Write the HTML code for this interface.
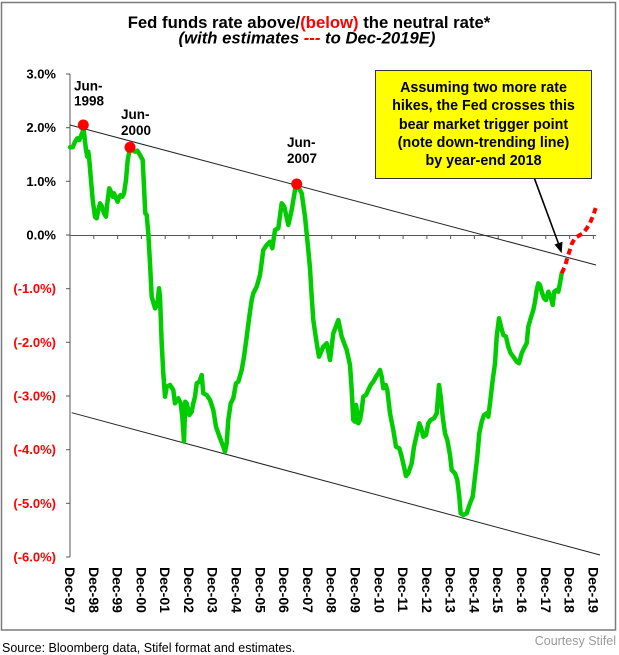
<!DOCTYPE html>
<html>
<head>
<meta charset="utf-8">
<style>
  html,body{margin:0;padding:0;background:#fff;}
  body{width:619px;height:655px;overflow:hidden;position:relative;font-family:"Liberation Sans",Arial,sans-serif;}
  svg{position:absolute;left:0;top:0;}
  .box{position:absolute;left:375px;top:70px;width:215px;height:99px;background:#ffff00;border:1.5px solid #333;
       font-weight:bold;font-size:14.3px;line-height:18.3px;text-align:center;color:#000;padding-top:8px;box-sizing:content-box;}
</style>
</head>
<body>
<svg width="619" height="655" viewBox="0 0 619 655" xmlns="http://www.w3.org/2000/svg" font-family="Liberation Sans, Arial, sans-serif">
  <!-- outer frame -->
  <rect x="1.5" y="2.5" width="614" height="627.5" fill="#fff" stroke="#7a7a7a" stroke-width="1.5"/>

  <!-- title -->
  <text x="309" y="28" text-anchor="middle" font-size="16.7" font-weight="bold" fill="#000">Fed funds rate above/<tspan fill="#ff0000">(below)</tspan> the neutral rate*</text>
  <text x="307" y="43.5" text-anchor="middle" font-size="16.7" font-weight="bold" font-style="italic" fill="#000">(with estimates <tspan fill="#ff0000">---</tspan> to Dec-2019E)</text>

  <!-- y axis -->
  <line x1="70" y1="74" x2="70" y2="557" stroke="#555" stroke-width="1"/>
  <g stroke="#555" stroke-width="1">
    <line x1="66" y1="74" x2="70" y2="74"/>
    <line x1="66" y1="127.7" x2="70" y2="127.7"/>
    <line x1="66" y1="181.3" x2="70" y2="181.3"/>
    <line x1="66" y1="235" x2="70" y2="235"/>
    <line x1="66" y1="288.7" x2="70" y2="288.7"/>
    <line x1="66" y1="342.3" x2="70" y2="342.3"/>
    <line x1="66" y1="396" x2="70" y2="396"/>
    <line x1="66" y1="449.7" x2="70" y2="449.7"/>
    <line x1="66" y1="503.3" x2="70" y2="503.3"/>
    <line x1="66" y1="557" x2="70" y2="557"/>
  </g>
  <g font-size="13" font-weight="bold" text-anchor="end" dominant-baseline="central">
    <text x="56" y="74" fill="#000">3.0%</text>
    <text x="56" y="127.7" fill="#000">2.0%</text>
    <text x="56" y="181.3" fill="#000">1.0%</text>
    <text x="56" y="235" fill="#000">0.0%</text>
    <text x="56" y="288.7" fill="#ff0000">(-1.0%)</text>
    <text x="56" y="342.3" fill="#ff0000">(-2.0%)</text>
    <text x="56" y="396" fill="#ff0000">(-3.0%)</text>
    <text x="56" y="449.7" fill="#ff0000">(-4.0%)</text>
    <text x="56" y="503.3" fill="#ff0000">(-5.0%)</text>
    <text x="56" y="557" fill="#ff0000">(-6.0%)</text>
  </g>

  <!-- x axis (zero line) -->
  <line x1="70" y1="235.5" x2="596" y2="235.5" stroke="#555" stroke-width="1"/>
  <g stroke="#555" stroke-width="1">
    <line x1="93.8" y1="235.5" x2="93.8" y2="239"/>
    <line x1="117.6" y1="235.5" x2="117.6" y2="239"/>
    <line x1="141.4" y1="235.5" x2="141.4" y2="239"/>
    <line x1="165.2" y1="235.5" x2="165.2" y2="239"/>
    <line x1="189" y1="235.5" x2="189" y2="239"/>
    <line x1="212.7" y1="235.5" x2="212.7" y2="239"/>
    <line x1="236.5" y1="235.5" x2="236.5" y2="239"/>
    <line x1="260.3" y1="235.5" x2="260.3" y2="239"/>
    <line x1="284.1" y1="235.5" x2="284.1" y2="239"/>
    <line x1="307.9" y1="235.5" x2="307.9" y2="239"/>
    <line x1="331.7" y1="235.5" x2="331.7" y2="239"/>
    <line x1="355.5" y1="235.5" x2="355.5" y2="239"/>
    <line x1="379.3" y1="235.5" x2="379.3" y2="239"/>
    <line x1="403.1" y1="235.5" x2="403.1" y2="239"/>
    <line x1="426.9" y1="235.5" x2="426.9" y2="239"/>
    <line x1="450.6" y1="235.5" x2="450.6" y2="239"/>
    <line x1="474.4" y1="235.5" x2="474.4" y2="239"/>
    <line x1="498.2" y1="235.5" x2="498.2" y2="239"/>
    <line x1="522" y1="235.5" x2="522" y2="239"/>
    <line x1="545.8" y1="235.5" x2="545.8" y2="239"/>
    <line x1="569.6" y1="235.5" x2="569.6" y2="239"/>
    <line x1="593.4" y1="235.5" x2="593.4" y2="239"/>
  </g>

  <!-- x labels -->
  <g font-size="14" font-weight="bold" fill="#000" dominant-baseline="central">
    <text transform="translate(70,567) rotate(90)">Dec-97</text>
    <text transform="translate(93.8,567) rotate(90)">Dec-98</text>
    <text transform="translate(117.6,567) rotate(90)">Dec-99</text>
    <text transform="translate(141.4,567) rotate(90)">Dec-00</text>
    <text transform="translate(165.2,567) rotate(90)">Dec-01</text>
    <text transform="translate(189,567) rotate(90)">Dec-02</text>
    <text transform="translate(212.7,567) rotate(90)">Dec-03</text>
    <text transform="translate(236.5,567) rotate(90)">Dec-04</text>
    <text transform="translate(260.3,567) rotate(90)">Dec-05</text>
    <text transform="translate(284.1,567) rotate(90)">Dec-06</text>
    <text transform="translate(307.9,567) rotate(90)">Dec-07</text>
    <text transform="translate(331.7,567) rotate(90)">Dec-08</text>
    <text transform="translate(355.5,567) rotate(90)">Dec-09</text>
    <text transform="translate(379.3,567) rotate(90)">Dec-10</text>
    <text transform="translate(403.1,567) rotate(90)">Dec-11</text>
    <text transform="translate(426.9,567) rotate(90)">Dec-12</text>
    <text transform="translate(450.6,567) rotate(90)">Dec-13</text>
    <text transform="translate(474.4,567) rotate(90)">Dec-14</text>
    <text transform="translate(498.2,567) rotate(90)">Dec-15</text>
    <text transform="translate(522,567) rotate(90)">Dec-16</text>
    <text transform="translate(545.8,567) rotate(90)">Dec-17</text>
    <text transform="translate(569.6,567) rotate(90)">Dec-18</text>
    <text transform="translate(593.4,567) rotate(90)">Dec-19</text>
  </g>

  <!-- trend lines -->
  <line x1="70" y1="125" x2="596" y2="265" stroke="#222" stroke-width="1"/>
  <line x1="71.7" y1="412.7" x2="600" y2="555" stroke="#222" stroke-width="1"/>

  <!-- green series -->
  <polyline fill="none" stroke="#00cc00" stroke-width="4.5" stroke-linejoin="round" stroke-linecap="round" points="
70,147.3 72.7,147.3 75,141.7 77.3,138.3 79.3,140 81,136 82.7,131.7 83.3,126 86,150 87.3,156.7 88.3,151.7 89.3,160 90.7,176.7 92.7,200 95,216.7 96.7,218.3 98.3,210 100,203.3 102,206.7 104,213.3 106,216.7 107.3,203.3 109.3,188.3 111,191.7 112.7,196.7 114,193.3 116,198.3 117.7,201.7 119.3,196.7 120.7,195 122.3,196.7 124,193.3 126,180 127.7,160 130,148 132.7,150 135,151.7 137.3,150.7 140,155 142.7,160 144,186.7 145.3,213.3 146.7,215 148.3,233.3
150,263.3 151.7,296.7 155,308.3 157.3,305 159,288.3 160,296.7 161.7,343.3 163.3,373.3 165,396.7 166.7,386.7 170,385 173.3,390 175,403.3 178.3,398.3 180.7,403.3 182.3,416.7 184,441.7 185.3,401.7 186.7,403.3 189.3,415 191.7,411.7 193.3,403.3 195,396.7 196.7,383.3 199.3,381.7 201.7,375 203.3,393.3 206.7,395 210,400 213.3,410 216,426.7 218.3,433.3 220.7,440 223.3,446.7 225,451.7 226.7,443.3 228.3,420 230.7,403.3 233.3,398.3 236,383.3 238.3,381.7 241.7,370 244,356.7 246.7,336.7 249.3,316.7 251.7,300 253.3,293.3 256.7,286.7 260,275
263.3,250 266.7,245 270,241.7 272.3,248.3 275,230 278.3,228.3 281.7,203.3 284.3,206.7 288.3,225 291.7,210 295,190 296.7,184 301.7,193.3 305,216.7 308.3,250 310,268.3 311.7,296.7 313.3,320 316.7,343.3 319,356.7 323.3,346.7 326.7,343.3 330,360 333.3,333.3 338.3,320 341.7,336.7 346.7,350 350,365
351.7,390 353.3,420 355,421.7 356,405 357.3,413.3 358.3,423.3 360,420 361.7,410 363.3,396.7 366,395 368.3,390 370.7,385 373.3,381.7 376,376.7 378.3,373.3 380,370 381.7,376.7 383.3,388.3 385.7,385 387.3,390 390,413.3 393.3,430 396,446.7 399.3,448.3 401.7,456.7 404,466.7 406,476 408.3,473.3 411.7,463.3 414,446.7 416.7,435 419.3,423.3 421.7,430 423.3,436.7 426,435 428.3,423.3 430.7,420 434,418.3 436.7,413.3 439,385 440.7,396.7 442.7,416.7 445,433.3 447.3,440
450,455 451.7,470 455,473.3 457.3,480 459.3,496.7 460.7,513.3 463.3,515 466.7,513.3 470,503.3 472.7,496.7 475,476.7 477.3,456.7 479.3,433.3 481.7,421.7 484,415 486.7,413.3 488.3,416.7 490,403.3 492.7,380 495,363.3 496.7,336.7 499,318.3 501,326.7 503.3,335 506,336.7 508.3,346.7 510.7,353.3 513.3,356.7 516.7,361.7 519,363.3 521.7,353.3 524,348.3 526.7,343.3 528.3,326.7 530.7,318.3 533.3,310 535,301.7 536.7,290 538.3,283.3 540,285 541.7,291.7 544,298.3 546,300 548.3,291.7 550.7,296.7 552.7,305 554.3,291.7 556.7,290 558.3,291.7 560,283.3 561.7,273.3"/>

  <!-- red dashed estimate -->
  <polyline fill="none" stroke="#ff0000" stroke-width="4" stroke-dasharray="6 4" stroke-linejoin="round" points="561.7,273.3 565,266 568.3,255 571.7,244 575,238 580,235 583.3,233 587,228 590,223 593,216 595.7,208"/>

  <!-- red dots -->
  <circle cx="83.3" cy="125" r="5.5" fill="#ff0000"/>
  <circle cx="130" cy="147.3" r="5.5" fill="#ff0000"/>
  <circle cx="296.7" cy="184" r="5.5" fill="#ff0000"/>

  <!-- point labels -->
  <g font-size="13.5" font-weight="bold" fill="#000">
    <text x="74" y="90.5">Jun-</text>
    <text x="74" y="105.5">1998</text>
    <text x="121" y="119">Jun-</text>
    <text x="121" y="135">2000</text>
    <text x="287" y="147">Jun-</text>
    <text x="287" y="163">2007</text>
  </g>

  <!-- arrow -->
  <line x1="532.3" y1="172.7" x2="559" y2="245" stroke="#000" stroke-width="1.6"/>
  <polygon points="561.7,253.3 554.5,244.5 562.5,241.8" fill="#000"/>

  <!-- footer -->
  <text x="2" y="652" font-size="12.5" fill="#000">Source: Bloomberg data, Stifel format and estimates.</text>
  <text x="616" y="645" font-size="12.5" fill="#9a9a9a" text-anchor="end">Courtesy Stifel</text>
</svg>

<div class="box">Assuming two more rate<br>hikes, the Fed crosses this<br>bear market trigger point<br>(note down-trending line)<br>by year-end 2018</div>
</body>
</html>
